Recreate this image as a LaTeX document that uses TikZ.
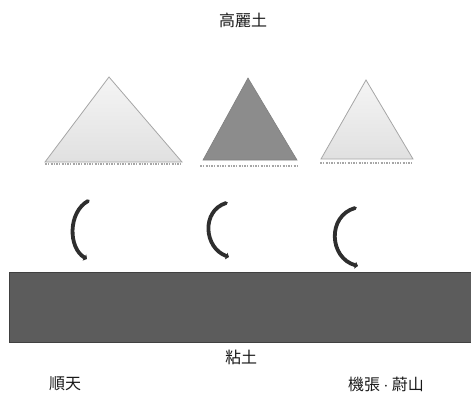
\documentclass[tikz,border=0pt]{standalone}
\usepackage{fontspec}
\newfontfamily\cjk{Noto Sans CJK TC}
\usetikzlibrary{arrows.meta}
\begin{document}
\begin{tikzpicture}[x=1pt,y=-1pt,
  lbl/.style={font=\cjk\fontsize{16}{18}\selectfont, text=black!90, inner sep=0pt},
  lighttri/.style={draw=black!35, line width=0.8pt, top color=black!4, bottom color=black!12},
  darktri/.style={draw=black!50, line width=0.6pt, fill=black!45},
  fringe/.style={draw=black!35, line width=1.6pt, dash pattern=on 2pt off 1pt on 1pt off 1.5pt},
  curl/.style={draw=black!82, line width=3.8pt, line cap=round, -{Triangle[length=3pt,width=7pt]}}]
\useasboundingbox (0,0) rectangle (471,396);
% triangles
\path[lighttri] (109,77) -- (182,162) -- (45,162) -- cycle;
\path[darktri] (248,78) -- (297,160) -- (203,160) -- cycle;
\path[lighttri] (366,80) -- (413,159) -- (321,159) -- cycle;
\path[fringe] (45,164) -- (182,164);
\path[fringe] (200,166) -- (299,166);
\path[fringe] (320,163) -- (413,163);
% curved arrows
\path[curl] (88,201) .. controls (68,212) and (68,248) .. (87,259);
\path[curl] (226,203) .. controls (201,211) and (204,248) .. (229,257);
\path[curl] (355,208) .. controls (327,216) and (329,258) .. (358,266);
% clay layer
\path[draw=black!75, fill=black!64, line width=0.8pt] (9,272) rectangle (472,342);
% labels
\node[lbl] (top) at (243,20) {高麗土};
\node[lbl] (clay) at (241,357) {粘土};
\node[lbl] (left) at (65,384) {順天};
\node[lbl] (right) at (386,384) {機張 $\cdot$ 蔚山};
\end{tikzpicture}
\end{document}
